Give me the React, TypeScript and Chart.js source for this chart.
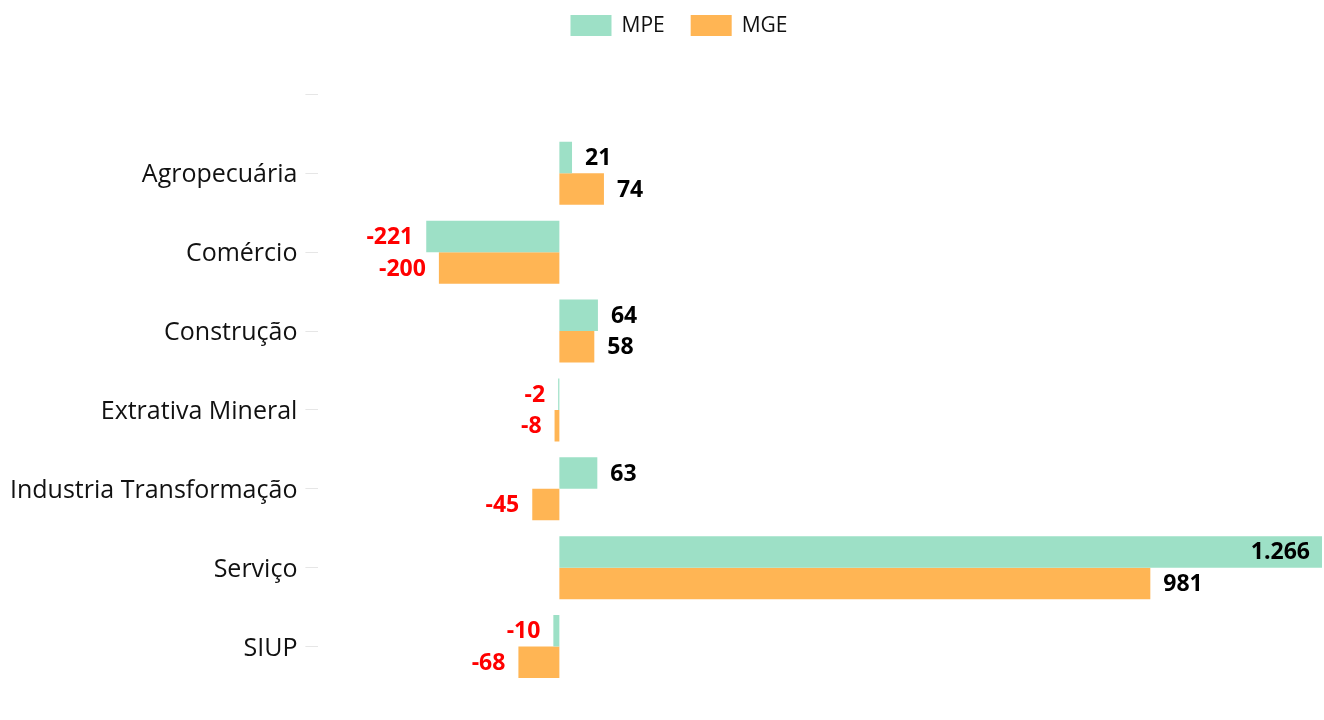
import React, { useEffect, useRef } from "react";
import { Chart, registerables } from "chart.js";

Chart.register(...registerables);

const categories = [
  "",
  "Agropecuária",
  "Comércio",
  "Construção",
  "Extrativa Mineral",
  "Industria Transformação",
  "Serviço",
  "SIUP",
];
const mpeValues = [null, 21, -221, 64, -2, 63, 1266, -10];
const mgeValues = [null, 74, -200, 58, -8, -45, 981, -68];
const seriesNames = ["MPE", "MGE"];
const seriesColors = ["#9DE0C6", "#FFB554"];

const FONT = "'Open Sans', 'Noto Sans', sans-serif";

function fmt(v: number): string {
  const s = Math.abs(v).toString().replace(/\B(?=(\d{3})+(?!\d))/g, ".");
  return (v < 0 ? "-" : "") + s;
}

const labelPlugin = {
  id: "barLabels",
  afterDatasetsDraw(chart: any) {
    const ctx = chart.ctx;
    const area = chart.chartArea;
    ctx.save();
    ctx.font = `bold 23px ${FONT}`;
    ctx.textBaseline = "middle";
    ctx.textAlign = "left";
    chart.data.datasets.forEach((ds: any, di: number) => {
      const meta = chart.getDatasetMeta(di);
      meta.data.forEach((el: any, i: number) => {
        const v = ds.data[i];
        if (v === null || v === undefined) return;
        const text = fmt(v);
        const w = ctx.measureText(text).width;
        let x: number;
        if (v >= 0) {
          ctx.fillStyle = "#000000";
          x = el.x + 13;
          if (x + w > area.right) x = el.x - 12 - w;
        } else {
          ctx.fillStyle = "#FF0000";
          x = el.x - 13 - w;
        }
        ctx.fillText(text, x, el.y + 1);
      });
    });
    ctx.restore();
  },
};

const legendPlugin = {
  id: "customLegend",
  afterDraw(chart: any) {
    const ctx = chart.ctx;
    ctx.save();
    ctx.font = `21px ${FONT}`;
    ctx.textBaseline = "middle";
    ctx.textAlign = "left";
    const boxW = 41;
    const boxH = 21;
    const textGap = 10;
    const itemGap = 26;
    const items = chart.data.datasets.map((ds: any) => ({
      label: ds.label,
      color: ds.backgroundColor,
      tw: ctx.measureText(ds.label).width,
    }));
    const total =
      items.reduce((s: number, it: any) => s + boxW + textGap + it.tw, 0) +
      itemGap * (items.length - 1);
    let x = chart.width / 2 + 17 - total / 2;
    const y = 15;
    items.forEach((it: any) => {
      ctx.fillStyle = it.color;
      ctx.fillRect(x, y, boxW, boxH);
      ctx.fillStyle = "#111111";
      ctx.fillText(it.label, x + boxW + textGap, y + boxH / 2 + 1);
      x += boxW + textGap + it.tw + itemGap;
    });
    ctx.restore();
  },
};

export default function App() {
  const ref = useRef<HTMLCanvasElement | null>(null);
  useEffect(() => {
    document.body.style.margin = "0";
    if (!ref.current) return;
    const chart = new Chart(ref.current, {
      type: "bar",
      data: {
        labels: categories,
        datasets: [
          {
            label: seriesNames[0],
            data: mpeValues,
            backgroundColor: seriesColors[0],
            categoryPercentage: 0.8,
            barPercentage: 1,
          },
          {
            label: seriesNames[1],
            data: mgeValues,
            backgroundColor: seriesColors[1],
            categoryPercentage: 0.8,
            barPercentage: 1,
          },
        ],
      },
      options: {
        indexAxis: "y",
        animation: false,
        responsive: true,
        maintainAspectRatio: false,
        layout: { padding: { top: 55, right: 2, bottom: 34, left: 2 } },
        plugins: {
          legend: { display: false },
          tooltip: { enabled: false },
        },
        scales: {
          x: {
            display: false,
            min: -400,
            max: 1266,
          },
          y: {
            grid: {
              offset: false,
              drawOnChartArea: false,
              drawTicks: true,
              tickLength: 13,
              color: "#E6E6E6",
            },
            border: { display: false },
            ticks: {
              padding: 8,
              labelOffset: 2,
              color: "#111111",
              font: { family: FONT, size: 25 },
            },
          },
        },
      },
      plugins: [labelPlugin, legendPlugin],
    });
    return () => chart.destroy();
  }, []);
  return (
    <div style={{ width: "100vw", height: "100vh", position: "relative" }}>
      <canvas ref={ref} />
    </div>
  );
}
